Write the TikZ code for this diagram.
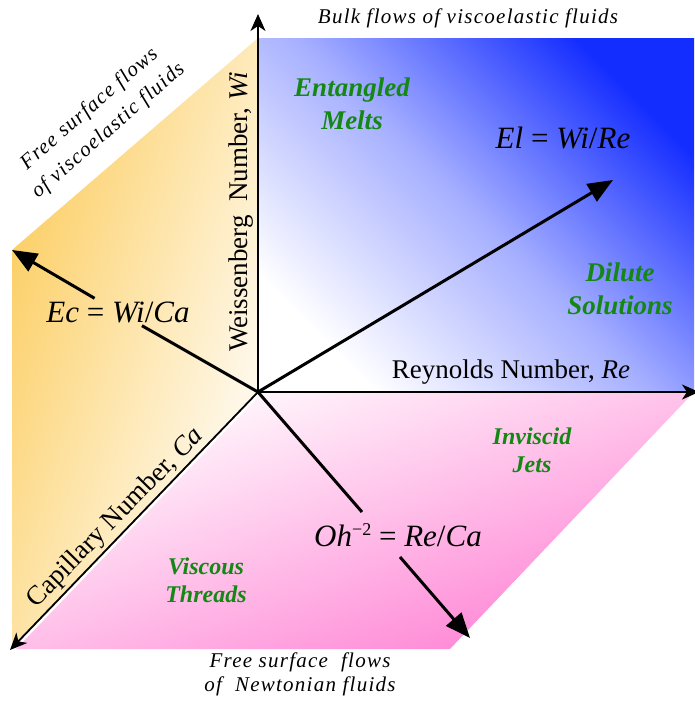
\documentclass[tikz,border=0pt]{standalone}
\usepackage{fontspec}
\setmainfont{Liberation Serif}
\newfontfamily\capit[LetterSpace=6]{Liberation Serif Italic}
\usetikzlibrary{arrows.meta}
\definecolor{bluec}{RGB}{20,45,255}
\definecolor{orangec}{RGB}{252,205,95}
\definecolor{pinkc}{RGB}{255,130,212}
\definecolor{greenc}{RGB}{20,135,20}
\begin{document}
\begin{tikzpicture}[x=1pt,y=-1pt,
  axisline/.style={line width=1.8pt,-{Stealth[length=17pt,width=15pt,inset=5pt]}},
  ratioline/.style={line width=3pt},
  ratio/.style={line width=3pt,-{Triangle[length=25pt,width=20pt]}},
  regime/.style={text=greenc,font=\fontsize{27}{33}\selectfont\bfseries\itshape,align=center},
  regimes/.style={text=greenc,font=\fontsize{24}{28}\selectfont\bfseries\itshape,align=center},
  axislabel/.style={font=\fontsize{27}{30}\selectfont},
  formula/.style={font=\fontsize{31}{33}\selectfont,inner sep=3pt},
  captionlab/.style={font=\fontsize{21}{24}\capit,align=center},
]
\useasboundingbox (0,0) rectangle (694,702);
% regions
\shade[bottom color=white, top color=bluec, middle color=bluec!38!white, shading angle=-45] (258,38) rectangle (694,392);
\shade[top color=orangec, bottom color=white, middle color=orangec!50!white, shading angle=72] (258,38) -- (258,392) -- (12,648) -- (12,250) -- cycle;
\shade[top color=white, bottom color=pinkc, shading angle=20] (258,392) -- (694,392) -- (450,649) -- (12,649) -- cycle;
% coordinates
\coordinate (O) at (258,392);
\coordinate (wiTip) at (258,14);
\coordinate (reTip) at (699,392);
\coordinate (caTip) at (10,650);
\coordinate (elTip) at (613,180);
\coordinate (ecTip) at (12,250);
\coordinate (ohA) at (362,512);
\coordinate (ohB) at (400,557);
\coordinate (ohTip) at (470,638);
% axes
\draw[white, line width=2.5pt, transform canvas={shift={(1.6pt,-1.6pt)}}] (O) -- (caTip);
\draw[axisline] (O) -- (wiTip);
\draw[axisline] (O) -- (reTip);
\draw[axisline] (O) -- (caTip);
% axis labels
\node[axislabel, rotate=90] (wilab) at (241,212) {Weissenberg\ \ Number, \textit{Wi}};
\node[axislabel] (relab) at (511,372) {Reynolds Number, \textit{Re}};
\node[axislabel, rotate=45.6] (calab) at (116,518) {Capillary Number, \textit{Ca}};
% ratios
\node[formula] (el) at (563,138) {\textit{El} = \textit{Wi}/\textit{Re}};
\node[formula] (ec) at (118,312) {\textit{Ec} = \textit{Wi}/\textit{Ca}};
\node[formula] (oh) at (398,535) {\textit{Oh}\raisebox{0.75ex}{\fontsize{18}{18}\selectfont −2} = \textit{Re}/\textit{Ca}};
\draw[ratio] (O) -- (elTip);
\draw[ratioline] (O) -- (ec);
\draw[ratio] (ec) -- (ecTip);
\draw[ratioline] (O) -- (ohA);
\draw[ratio] (ohB) -- (ohTip);
% regimes
\node[regime] (melts) at (352,104) {Entangled\\Melts};
\node[regime] (dilute) at (620,289) {Dilute\\Solutions};
\node[regimes] (jets) at (532,450) {Inviscid\\Jets};
\node[regimes] (threads) at (206,580) {Viscous\\Threads};
% captions
\node[captionlab] (bulk) at (468,18) {Bulk flows of viscoelastic fluids};
\node[captionlab, rotate=41, font=\fontsize{21}{29}\capit] (fsve) at (99,120) {Free surface flows\\of viscoelastic fluids};
\node[captionlab] (fsn) at (300,674) {Free surface\ \ flows\\of\ \ Newtonian fluids};
\end{tikzpicture}
\end{document}
